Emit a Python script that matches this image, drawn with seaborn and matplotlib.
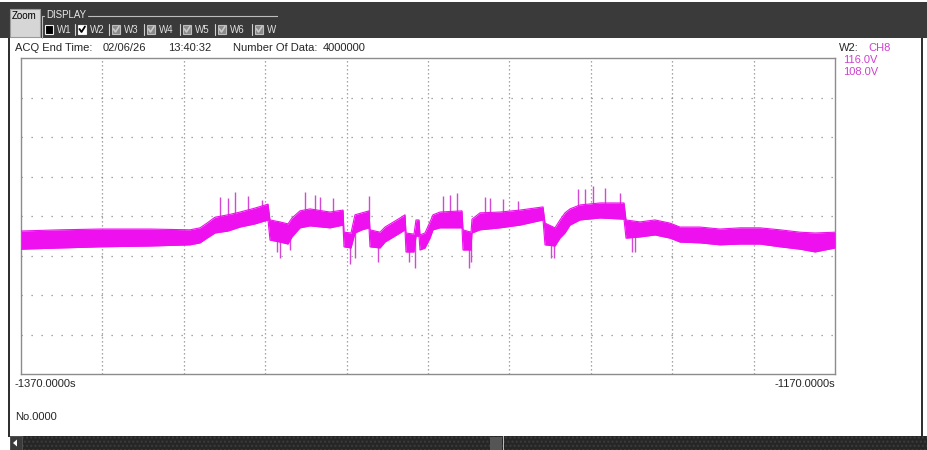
import numpy as np
import matplotlib
matplotlib.use("Agg")
import matplotlib.pyplot as plt
from matplotlib.patches import Rectangle, Polygon
from matplotlib.lines import Line2D
import seaborn as sns

# ---------------- data ----------------
time_s = [-1370.0, -1360.42, -1350.59, -1338.30, -1328.48, -1326.02, -1324.30, -1322.33,
          -1319.14, -1316.19, -1312.51, -1309.31, -1308.82, -1306.36, -1304.40, -1303.42,
          -1301.45, -1298.99, -1294.08, -1290.88, -1290.64, -1288.92, -1287.94, -1286.22,
          -1284.50, -1284.25, -1281.79, -1280.57, -1276.88, -1275.65, -1275.41, -1273.44,
          -1272.95, -1272.21, -1271.97, -1270.74, -1269.51, -1268.77, -1267.05, -1261.65,
          -1261.40, -1259.43, -1259.19, -1257.22, -1252.31, -1247.40, -1241.74, -1241.25,
          -1238.80, -1237.57, -1236.34, -1235.11, -1232.65, -1227.74, -1221.84, -1221.35,
          -1217.91, -1214.23, -1210.54, -1208.08, -1203.17, -1198.26, -1193.34, -1188.43,
          -1183.51, -1178.60, -1174.91, -1170.0]
upper_v = [111.62, 111.65, 111.67, 111.67, 111.65, 111.70, 111.82, 111.97,
           112.03, 112.10, 112.20, 112.30, 111.90, 111.85, 111.80, 111.95,
           112.13, 112.18, 112.10, 112.15, 111.59, 111.57, 112.03, 112.08,
           112.13, 111.65, 111.59, 111.72, 111.95, 112.03, 111.57, 111.54,
           111.90, 111.90, 111.52, 111.57, 111.85, 112.03, 112.10, 112.13,
           111.65, 111.59, 111.92, 112.08, 112.10, 112.15, 112.23, 111.82,
           111.70, 111.90, 112.08, 112.18, 112.28, 112.33, 112.33, 111.90,
           111.85, 111.90, 111.82, 111.72, 111.72, 111.67, 111.70, 111.70,
           111.65, 111.59, 111.57, 111.59]
lower_v = [111.16, 111.19, 111.22, 111.24, 111.27, 111.32, 111.44, 111.57,
           111.62, 111.72, 111.80, 111.90, 111.39, 111.34, 111.29, 111.47,
           111.70, 111.75, 111.70, 111.77, 111.22, 111.19, 111.57, 111.65,
           111.70, 111.22, 111.19, 111.34, 111.57, 111.65, 111.09, 111.09,
           111.49, 111.49, 111.14, 111.19, 111.44, 111.65, 111.70, 111.70,
           111.14, 111.14, 111.57, 111.65, 111.70, 111.77, 111.90, 111.27,
           111.24, 111.44, 111.57, 111.77, 111.90, 111.95, 111.92, 111.44,
           111.47, 111.52, 111.44, 111.34, 111.32, 111.27, 111.29, 111.29,
           111.22, 111.16, 111.09, 111.19]

spike_up_t = [-1321.11, -1319.14, -1317.42, -1314.23, -1310.79, -1300.22, -1297.76,
              -1296.54, -1293.34, -1284.50, -1266.31, -1264.59, -1262.87, -1256.00,
              -1254.77, -1251.57, -1247.89, -1233.15, -1231.43, -1229.46, -1226.51,
              -1222.83]
spike_up_v = [112.48, 112.46, 112.61, 112.51, 112.41, 112.61, 112.53,
              112.48, 112.46, 112.51, 112.51, 112.53, 112.58, 112.48,
              112.46, 112.43, 112.38, 112.68, 112.68, 112.76, 112.71,
              112.58]
spike_dn_t = [-1307.10, -1306.36, -1303.91, -1289.16, -1287.94, -1282.29, -1274.67,
              -1273.19, -1259.93, -1259.55, -1239.78, -1239.04, -1219.88, -1219.14]
spike_dn_v = [111.09, 110.94, 111.14, 110.78, 110.94, 110.84, 110.84,
              110.68, 110.68, 110.84, 110.94, 110.94, 111.09, 111.09]

x_min, x_max = -1370.0, -1170.0
y_min, y_max = 108.0, 116.0
x_labels = ["-1370.0000s", "-1170.0000s"]
ch_labels = ["116.0V", "108.0V"]

# ---------------- figure ----------------
sns.set_style("white")
plt.rcParams['font.family'] = ['Liberation Sans', 'DejaVu Sans']

W, H = 927, 450
fig = plt.figure(figsize=(W / 100, H / 100), dpi=100)
fig.patch.set_facecolor("white")

def R(x0, y0, x1, y1, **kw):
    fig.patches.append(Rectangle((x0 / W, 1 - y1 / H), (x1 - x0) / W, (y1 - y0) / H,
                                 transform=fig.transFigure, **kw))

def T(x, y, s, **kw):
    kw.setdefault("va", "center")
    kw.setdefault("fontsize", 8)
    fig.text(x / W, 1 - y / H, s, **kw)

def L(xs, ys, **kw):
    fig.lines.append(Line2D([x / W for x in xs], [1 - y / H for y in ys],
                            transform=fig.transFigure, **kw))

# plot area
ax = fig.add_axes([21 / W, 1 - 374 / H, 814 / W, 316 / H])
ax.set_xlim(x_min, x_max)
ax.set_ylim(y_min, y_max)
ax.set_xticks(np.arange(x_min + 20, x_max, 20))
ax.set_yticks(np.arange(y_min + 1, y_max, 1))
ax.tick_params(length=0, labelbottom=False, labelleft=False)
ax.xaxis.grid(True, color="#8a8a8a", linestyle=(0, (1, 2.2)), linewidth=0.9)
ax.yaxis.grid(True, color="#8a8a8a", linestyle=(0, (1, 7)), linewidth=0.9)
ax.set_axisbelow(True)
for sp in ax.spines.values():
    sp.set_color("#8c8c8c")
    sp.set_linewidth(1.0)

band_col = "#EE10EE"
spike_col = "#D548D5"
t = np.array(time_s)
up = np.array(upper_v)
lo = np.array(lower_v)
mid = (up + lo) / 2
ax.fill_between(t, lo, up, color=band_col, linewidth=0, zorder=3)
sns.lineplot(x=t, y=up, ax=ax, color=band_col, linewidth=0.8, zorder=3)
sns.lineplot(x=t, y=lo, ax=ax, color=band_col, linewidth=0.8, zorder=3)
ax.vlines(spike_up_t, np.interp(spike_up_t, t, mid), spike_up_v, color=spike_col,
          linewidth=1.0, zorder=2.9)
ax.vlines(spike_dn_t, np.interp(spike_dn_t, t, mid), spike_dn_v, color=spike_col,
          linewidth=1.0, zorder=2.9)
ax.set_xlabel("")
ax.set_ylabel("")

# ---------------- window chrome ----------------
R(0, 2, W, 38, facecolor="#3a3a3a", edgecolor="none")
R(10, 9, 40, 37, facecolor="#d6d6d6", edgecolor="#9a9a9a", linewidth=0.8)
T(12, 16, "Zoom", fontsize=7, color="black")
T(46, 15, "DISPLAY", fontsize=7, color="#e8e8e8")
L([42, 44], [16, 16], color="#bdbdbd", linewidth=0.8)
L([88, 278], [16, 16], color="#bdbdbd", linewidth=0.8)
L([42, 42], [16, 38], color="#bdbdbd", linewidth=0.8)

boxes = [45, 78, 112, 147, 183, 218, 255]
names = ["W1", "W2", "W3", "W4", "W5", "W6", "W"]
for i, (bx, nm) in enumerate(zip(boxes, names)):
    if i == 0:
        R(bx, 25, bx + 8, 34, facecolor="black", edgecolor="#f0f0f0", linewidth=0.8)
    elif i == 1:
        R(bx, 25, bx + 8, 34, facecolor="white", edgecolor="#f0f0f0", linewidth=0.8)
        L([bx + 1.5, bx + 3.5, bx + 7], [29, 32, 26.5], color="black", linewidth=1.3)
    else:
        R(bx, 25, bx + 8, 34, facecolor="#8a8a8a", edgecolor="#bdbdbd", linewidth=0.8)
        L([bx + 1.5, bx + 3.5, bx + 7], [29, 32, 26.5], color="#c8c8c8", linewidth=1.2)
    if i > 0:
        L([bx - 3, bx - 3], [24, 35], color="#d0d0d0", linewidth=0.8)
    T(bx + 12, 30, nm, fontsize=7, color="#e0e0e0")
R(278, 14, W, 38, facecolor="#3a3a3a", edgecolor="none", zorder=5)

# window borders
R(8, 38, 10, 437, facecolor="#303030", edgecolor="none")
R(921, 38, 922.5, 437, facecolor="#303030", edgecolor="none")

# header texts
T(15, 48, "ACQ End Time:")
T(103, 48, "02/06/26")
T(168, 48, "13:40:32")
T(233, 48, "Number Of Data:")
T(323, 48, "4000000")
T(839, 48, "W2:")
mag = "#D040D0"
T(868, 48, "CH8", color=mag)
T(843, 60, ch_labels[0], color=mag)
T(843, 72, ch_labels[1], color=mag)

# axis end labels
T(15, 384, x_labels[0])
T(835, 384, x_labels[1], ha="right")
T(15, 417, "No.0000")

# scrollbar
R(10, 436, W, H, facecolor="#262626", edgecolor="none")
R(10, 436, W, H, facecolor="none", edgecolor="#3c3c3c", hatch="....", linewidth=0)
R(10, 436, 22, H, facecolor="#3a3a3a", edgecolor="#555555", linewidth=0.6)
fig.patches.append(Polygon([(13 / W, 1 - 443 / H), (17 / W, 1 - 439.5 / H), (17 / W, 1 - 446.5 / H)],
                           closed=True, transform=fig.transFigure, facecolor="white",
                           edgecolor="none"))
R(490, 437, 502, H, facecolor="#555555", edgecolor="none")
R(502.5, 436, 504, H, facecolor="#bbbbbb", edgecolor="none")

fig.savefig("out.png", dpi=100)
